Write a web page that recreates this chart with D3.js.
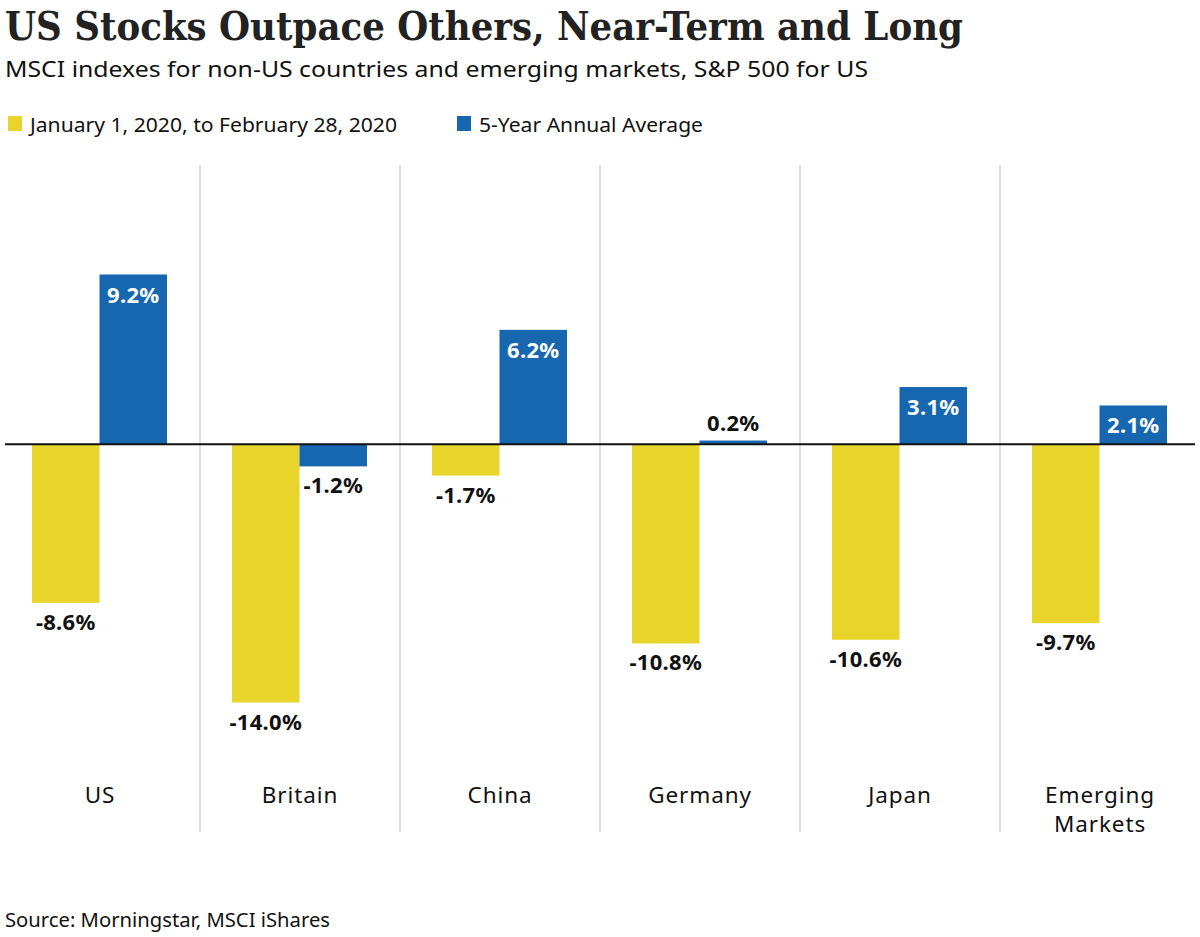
<!DOCTYPE html>
<html>
<head>
<meta charset="utf-8">
<script src="https://cdn.jsdelivr.net/npm/d3@7"></script>
<style>
  body { margin: 0; background: #fff; }
  text { font-family: "Noto Sans", "Open Sans", sans-serif; }
</style>
</head>
<body>
<div id="chart"></div>
<script>
// Data.
var categories = ["US", "Britain", "China", "Germany", "Japan", "Emerging Markets"];
var seriesNames = ["January 1, 2020, to February 28, 2020", "5-Year Annual Average"];
var ytdValues = [-8.6, -14.0, -1.7, -10.8, -10.6, -9.7];
var fiveYearValues = [9.2, -1.2, 6.2, 0.2, 3.1, 2.1];

var svgWidth = 1200;
var svgHeight = 937;
var colors = ["#e9d42b", "#1666b0"];

var svg = d3.select("#chart")
    .append("svg")
    .attr("width", svgWidth)
    .attr("height", svgHeight);

// Title block.
svg.append("text")
    .attr("x", 5)
    .attr("y", 40)
    .attr("textLength", 958)
    .attr("lengthAdjust", "spacingAndGlyphs")
    .style("font-family", "'DejaVu Serif', 'Liberation Serif', serif")
    .style("font-weight", "bold")
    .style("font-size", "40px")
    .style("fill", "#222")
    .text("US Stocks Outpace Others, Near-Term and Long");

svg.append("text")
    .attr("x", 5)
    .attr("y", 77)
    .attr("textLength", 863)
    .attr("lengthAdjust", "spacingAndGlyphs")
    .style("font-size", "22px")
    .style("fill", "#111")
    .text("MSCI indexes for non-US countries and emerging markets, S&P 500 for US");

// Legend.
var legendX = [8, 457];
var legendLen = [367, 224];
seriesNames.forEach(function(name, i) {
    svg.append("rect")
        .attr("x", legendX[i])
        .attr("y", 116)
        .attr("width", 14)
        .attr("height", 15)
        .attr("fill", colors[i]);
    svg.append("text")
        .attr("x", legendX[i] + 22)
        .attr("y", 132)
        .attr("textLength", legendLen[i])
        .attr("lengthAdjust", "spacingAndGlyphs")
        .style("font-size", "20px")
        .style("fill", "#111")
        .text(name);
});

// Scales.
var xScale = d3.scaleBand()
    .domain(categories)
    .range([0, svgWidth]);

var innerScale = d3.scaleBand()
    .domain([0, 1])
    .range([32, 167]);

var yScale = d3.scaleLinear()
    .domain([-14, 9.2])
    .range([702.5, 274.5]);

// Separators between panels.
svg.selectAll(".sep")
    .data(categories.slice(1))
    .enter()
    .append("line")
    .attr("x1", d => xScale(d))
    .attr("x2", d => xScale(d))
    .attr("y1", 165)
    .attr("y2", 832)
    .attr("stroke", "#dddddd")
    .attr("stroke-width", 2);

// Flatten into rows.
var rows = [];
categories.forEach(function(c, i) {
    rows.push({ cat: c, s: 0, v: ytdValues[i] });
    rows.push({ cat: c, s: 1, v: fiveYearValues[i] });
});

svg.selectAll(".bar")
    .data(rows)
    .enter()
    .append("rect")
    .attr("x", d => xScale(d.cat) + innerScale(d.s))
    .attr("width", innerScale.bandwidth())
    .attr("y", d => yScale(Math.max(0, d.v)))
    .attr("height", d => Math.abs(yScale(d.v) - yScale(0)))
    .attr("fill", d => colors[d.s]);

// Zero line.
svg.append("line")
    .attr("x1", 5)
    .attr("x2", 1195)
    .attr("y1", yScale(0))
    .attr("y2", yScale(0))
    .attr("stroke", "#111")
    .attr("stroke-width", 2);

// Value labels.
svg.selectAll(".val")
    .data(rows)
    .enter()
    .append("text")
    .attr("x", d => xScale(d.cat) + innerScale(d.s) + innerScale.bandwidth() / 2)
    .attr("y", function(d) {
        var h = Math.abs(yScale(d.v) - yScale(0));
        if (d.v < 0) return yScale(d.v) + 27;
        if (h > 30) return yScale(d.v) + 28;
        return yScale(d.v) - 10;
    })
    .style("text-anchor", "middle")
    .style("font-size", "22px")
    .style("font-weight", "bold")
    .style("letter-spacing", "0.3px")
    .style("fill", function(d) {
        var h = Math.abs(yScale(d.v) - yScale(0));
        return (d.v > 0 && h > 30) ? "#fff" : "#111";
    })
    .text(d => d.v.toFixed(1) + "%");

// Category labels.
var catLabels = svg.selectAll(".cat")
    .data(categories)
    .enter()
    .append("text")
    .attr("x", d => xScale(d) + xScale.bandwidth() / 2)
    .attr("y", 803)
    .style("text-anchor", "middle")
    .style("font-size", "22.5px")
    .style("letter-spacing", "0.9px")
    .style("fill", "#111");

catLabels.each(function(d) {
    var words = d.split(" ");
    var t = d3.select(this);
    words.forEach(function(w, i) {
        t.append("tspan")
            .attr("x", xScale(d) + xScale.bandwidth() / 2)
            .attr("dy", i === 0 ? 0 : 29)
            .text(w);
    });
});

// Source.
svg.append("text")
    .attr("x", 5)
    .attr("y", 927)
    .attr("textLength", 325)
    .attr("lengthAdjust", "spacingAndGlyphs")
    .style("font-size", "19px")
    .style("fill", "#111")
    .text("Source: Morningstar, MSCI iShares");
</script>
</body>
</html>
